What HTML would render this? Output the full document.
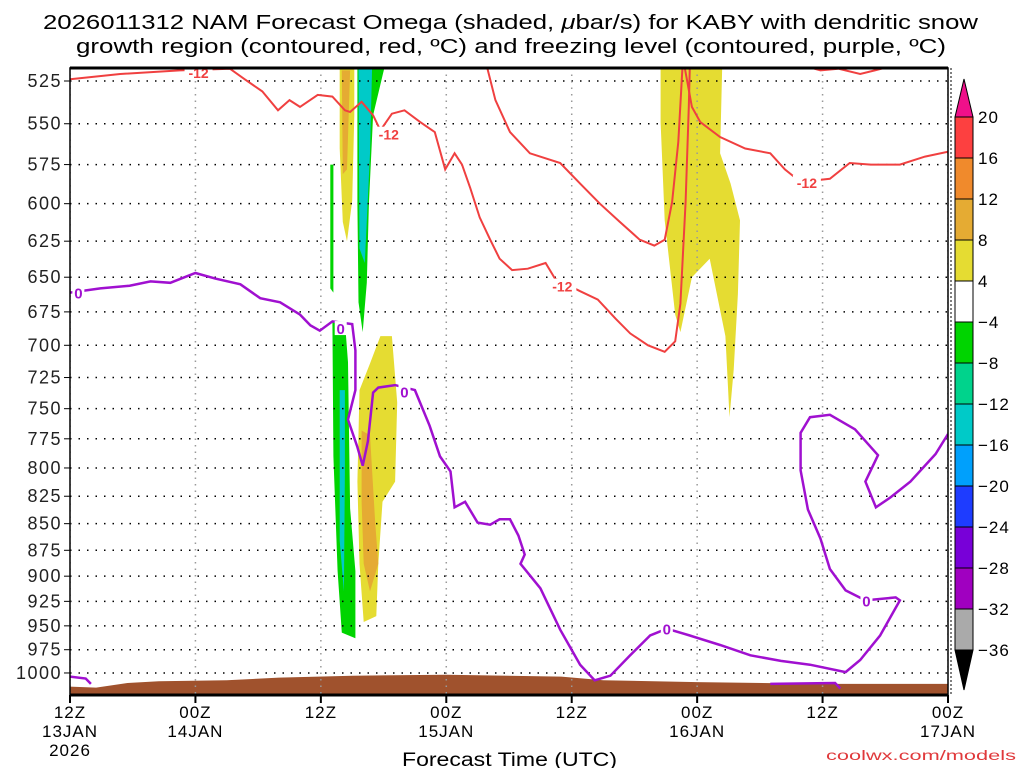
<!DOCTYPE html>
<html><head><meta charset="utf-8"><style>
html,body{margin:0;padding:0;background:#fff}
svg{display:block;font-family:"Liberation Sans",sans-serif}
</style></head><body>
<svg id="c" width="1024" height="768" viewBox="0 0 1024 768">
<text x="43" y="29" textLength="935" lengthAdjust="spacingAndGlyphs" font-size="20">2026011312 NAM Forecast Omega (shaded, <tspan font-style="italic">μ</tspan>bar/s) for KABY with dendritic snow</text>
<text x="76" y="53" textLength="870" lengthAdjust="spacingAndGlyphs" font-size="20">growth region (contoured, red, ºC) and freezing level (contoured, purple, ºC)</text>
<g id="plot"></g>
<text x="402" y="766" textLength="215" lengthAdjust="spacingAndGlyphs" font-size="19">Forecast Time (UTC)</text>
<text x="826" y="760" textLength="190" lengthAdjust="spacingAndGlyphs" font-size="14" fill="#e0393b">coolwx.com/models</text>
</svg>
<script>
const pTicks=[525,550,575,600,625,650,675,700,725,750,775,800,825,850,875,900,925,950,975,1000];
const tHours=[0,12,24,36,48,60,72,84];
const tLabels=[["12Z","13JAN","2026"],["00Z","14JAN"],["12Z"],["00Z","15JAN"],["12Z"],["00Z","16JAN"],["12Z"],["00Z","17JAN"]];
const cbLevels=[20,16,12,8,4,-4,-8,-12,-16,-20,-24,-28,-32,-36];
const cbColors=["#fd4040","#f08a2c","#e5ab33","#e5dc32","#ffffff","#00d400","#00d38c","#00cac8","#00a0fc","#1e3cff","#7800d8","#a000c0","#aaaaaa"];
const shadeColors=["#e5dc32","#e5ab33","#00d400","#00d400","#00cac8","#e5dc32","#00d400","#00cac8","#e5dc32","#e5ab33"];
const shadeA=[[25.8,517],[27.2,517],[27.2,545],[27,598],[26.5,625],[26.1,612],[25.8,565]];
const shadeB=[[26.0,519],[26.8,519],[26.5,578],[26.1,581]];
const shadeC=[[24.9,575],[25.2,575],[25.2,661],[24.9,658]];
const shadeD=[[27.5,517],[30.1,517],[29,545],[28.6,600],[28.4,654],[28,690],[27.6,668],[27.5,600]];
const shadeE=[[27.6,517],[28.9,517],[28.7,568],[28.2,640],[27.7,630]];
const shadeF=[[56.5,517],[62.4,517],[62.2,568],[63.2,587],[64.1,611],[63.9,662],[63.5,719],[63.1,757],[62.7,693],[61.2,637],[59.5,650],[58.4,690],[57.9,677],[56.9,611],[56.5,549]];
const shadeG=[[25.1,682],[26.3,682],[26.6,713],[26.8,836],[27.3,895],[27.3,963],[26.0,957],[25.6,895],[25.2,790]];
const shadeH=[[25.8,735],[26.3,735],[26.3,803],[26.2,915],[25.8,866]];
const shadeI=[[27.7,735],[28.7,714],[29.7,693],[30.8,693],[31.3,745],[31.1,812],[29.9,830],[29.5,888],[29.3,940],[28.1,946],[27.7,888],[27.5,812]];
const shadeJ=[[27.9,768],[28.7,772],[29.2,849],[29.5,888],[28.7,915],[28.1,888],[27.9,830]];
const redA=[[0,524],[4.8,521],[10.5,519],[15.3,518],[16.7,524],[18.4,531],[19.9,542],[21,536],[22,540],[23.7,533],[25.1,534],[26.3,542],[26.8,543],[27.9,537],[29,545],[29.7,554],[30.8,544],[32,542],[33.5,549],[34.9,555],[35.9,578],[36.8,568],[37.5,575],[38.3,590],[39.2,609],[40.2,624],[41.1,637],[42.3,645],[43.8,644],[45.5,640],[46.4,651],[48.8,660],[50.5,666],[52.2,680],[53.6,691],[55.3,700],[56.9,705],[57.9,697],[58.4,669],[58.9,599],[59.2,540],[59.3,517]];
const redB=[[39.9,517],[40.7,536],[42.1,555],[44,568],[46.9,574],[48.8,587],[50.7,600],[52.6,612],[54.5,624],[55.9,628],[56.9,624],[57.6,599],[58.2,561],[58.6,517]];
const redC=[[58.8,517],[59.5,540],[60.3,549],[62.2,558],[64.6,565],[67,568],[68.4,578],[69.9,586],[72.7,584],[74.6,574],[76.6,575],[79.4,575],[81.8,570],[84,567]];
const redD=[[70.6,517],[71.8,519],[73.5,518],[75.6,521],[77,519],[78.3,517]];
const purA=[[0,661],[2.9,658],[5.7,656],[7.7,653],[9.6,654],[12,647],[13.9,651],[16.3,655],[18.2,665],[20.1,668],[22,677],[23,685],[23.9,689],[25.1,682],[27,684],[27.3,704],[27.3,735],[26.6,759],[27.5,782],[28,798],[28.5,777],[29,737],[29.5,733],[31.1,731],[33,735],[34.4,764],[35.4,790],[36.4,803],[36.8,835],[37.8,830],[39,849],[40.2,851],[41.1,846],[42.1,846],[42.9,861],[43.5,879],[43.1,888],[45,912],[46.9,954],[48.8,991],[50.2,1008],[51.7,1003],[53.6,981],[55.5,960],[57.1,953],[59.3,960],[62.2,970],[65.1,981],[68,987],[70.8,991],[74.2,999],[75.6,986],[77.5,960],[79.4,924],[79,921],[76.1,924],[74.2,914],[72.7,893],[71.8,864],[70.6,837],[69.9,802],[69.9,770],[70.8,757],[72.7,755],[75.1,767],[77.3,789],[76.1,812],[77.1,835],[78.5,826],[80.4,812],[82.8,788],[84,771]];
const purB=[[0,1004],[1.5,1006],[2,1012]];
const purC=[[67,1012],[73.2,1011],[73.7,1017]];
const terrain=[[0,1015],[2.5,1016],[5.5,1011],[8.5,1009],[15,1008],[20,1005],[27,1003],[36,1002],[47,1004],[51,1008],[60,1010],[72,1012],[84,1012]];
const redLabels=[[12.3,520],[30.5,556],[47.1,656],[70.5,586]];
const purLabels=[[0.8,661],[25.9,687],[32,736],[57.1,953],[76.2,924]];

const X0=70,X1=948,Y0=68,Y1=695;
const xs=h=>X0+h*(X1-X0)/84;
const ys=p=>81+(Math.log(p)-Math.log(525))*918.7;
const NS="http://www.w3.org/2000/svg";
const g=document.getElementById('plot');
function mk(t,a,parent){const e=document.createElementNS(NS,t);for(const k in a)e.setAttribute(k,a[k]);(parent||g).appendChild(e);return e;}
const pts=arr=>arr.map(d=>xs(d[0]).toFixed(1)+","+ys(d[1]).toFixed(1)).join(" ");
const clip=mk('clipPath',{id:'pc'});mk('rect',{x:X0,y:Y0,width:X1-X0,height:Y1-Y0},clip);
const inner=mk('g',{'clip-path':'url(#pc)'});
const shades=[shadeA,shadeB,shadeC,shadeD,shadeE,shadeF,shadeG,shadeH,shadeI,shadeJ];
shades.forEach((s,i)=>{const e=mk('polygon',{points:pts(s),fill:shadeColors[i]},inner);

});
const terr=mk('polygon',{points:pts(terrain)+" "+xs(84)+","+Y1+" "+xs(0)+","+Y1,fill:"#a0522d"},inner);


pTicks.forEach(p=>{const y=ys(p);const l=mk('line',{x1:X0,x2:X1,y1:y,y2:y,stroke:"#000","stroke-width":1.5,"stroke-dasharray":"1.5 7"},inner);


mk('line',{x1:X0-6,x2:X0,y1:y,y2:y,stroke:"#000"});
const t=mk('text',{x:X0-8,y:y+6,'text-anchor':'end','font-size':18,'letter-spacing':1.5,fill:'#222'});t.textContent=p;

});
tHours.forEach((h,i)=>{const x=xs(h);const l=mk('line',{x1:x,x2:x,y1:Y0,y2:Y1,stroke:"#999","stroke-width":1.5,"stroke-dasharray":"1.5 5"},inner);


mk('line',{x1:x,x2:x,y1:Y1,y2:Y1+8,stroke:"#000","stroke-width":2});
tLabels[i].forEach((s,j)=>{const t=mk('text',{x:x,y:Y1+23+j*19,'text-anchor':'middle','font-size':17,'letter-spacing':1});t.textContent=s;

});});
[redA,redB,redC,redD].forEach((r,i)=>{const e=mk('polyline',{points:pts(r),fill:'none',stroke:'#f04040','stroke-width':2},inner);

});
[purA,purB,purC].forEach((r,i)=>{const e=mk('polyline',{points:pts(r),fill:'none',stroke:'#a010d0','stroke-width':2.5},inner);

});
redLabels.forEach(d=>{const x=xs(d[0]),y=ys(d[1]);mk('rect',{x:x-14,y:y-7,width:28,height:14,fill:'#fff'},inner);
const t=mk('text',{x:x,y:y+6,'text-anchor':'middle','font-size':14,'font-weight':'bold',fill:'#f04040'},inner);t.textContent="-12";

});
purLabels.forEach(d=>{const x=xs(d[0]),y=ys(d[1]);mk('rect',{x:x-6,y:y-7,width:12,height:14,fill:'#fff'},inner);
const t=mk('text',{x:x,y:y+6,'text-anchor':'middle','font-size':15,'font-weight':'bold',fill:'#a010d0'},inner);t.textContent="0";

});
const fr=mk('rect',{x:X0,y:Y0,width:X1-X0,height:Y1-Y0,fill:'none',stroke:'#000','stroke-width':1.5});


mk('line',{x1:X0,x2:X1,y1:Y0,y2:Y0,stroke:'#000','stroke-width':3});
mk('line',{x1:X0,x2:X1,y1:Y1,y2:Y1,stroke:'#000','stroke-width':3});
mk('line',{x1:X1+3,x2:X1+3,y1:Y0,y2:Y1,stroke:'#000','stroke-width':1,'stroke-dasharray':'2 2'});
const CX=955,CW=18,CT=117,CH=41;
const cb=mk('g',{});

mk('polygon',{points:`${CX},${CT} ${CX+CW},${CT} ${CX+CW/2},${CT-38}`,fill:'#f0108a',stroke:'#000'},cb);
cbColors.forEach((c,i)=>{mk('rect',{x:CX,y:CT+i*CH,width:CW,height:CH,fill:c,stroke:'#000'},cb);});
const bEnd=CT+cbColors.length*CH;
mk('polygon',{points:`${CX},${bEnd} ${CX+CW},${bEnd} ${CX+CW/2},${bEnd+40}`,fill:'#000',stroke:'#000'},cb);
cbLevels.forEach((v,i)=>{const t=mk('text',{x:CX+CW+5,y:CT+i*CH+6,'font-size':17,'letter-spacing':1},cb);t.textContent=(v<0?"\u2212"+(-v):v);

});
</script>
</body></html>
